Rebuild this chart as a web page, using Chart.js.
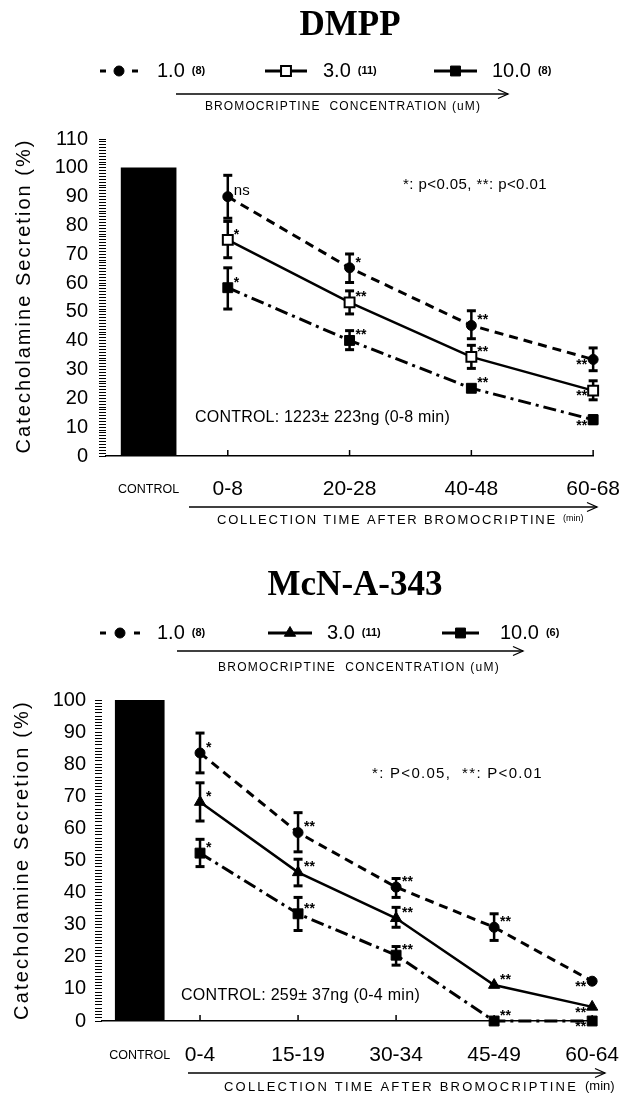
<!DOCTYPE html>
<html>
<head>
<meta charset="utf-8">
<script src="https://cdn.jsdelivr.net/npm/chart.js@4/dist/chart.umd.min.js"></script>
<style>
  html, body { margin: 0; padding: 0; background: #fff; }
  canvas { display: block; }
</style>
</head>
<body>
<canvas id="dmpp" width="641" height="540"></canvas>
<canvas id="mcn" width="641" height="555"></canvas>
<script>
// ----- data -----
const concLabels = ['1.0', '3.0', '10.0'];
const controlValue = 100;

// DMPP panel
const dmppTimes = ['0-8', '20-28', '40-48', '60-68'];
const dmppN = [8, 11, 8];
const dmppLow = [90, 65.3, 45.3, 33.5];
const dmppLowHi = [97.4, 70.1, 50.4, 37.5];
const dmppLowLo = [82.5, 60.2, 40.7, 29.6];
const dmppMid = [75, 53.3, 34.4, 22.7];
const dmppMidHi = [81.4, 57.3, 38.4, 26.1];
const dmppMidLo = [68.8, 49.3, 30.4, 19.5];
const dmppHigh = [58.4, 40.1, 23.5, 12.6];
const dmppHighHi = [65.3, 43.5, 24.5, 14];
const dmppHighLo = [51, 36.9, 22.5, 11.2];
const dmppSigLow = ['ns', '*', '**', '**'];
const dmppSigMid = ['*', '**', '**', '**'];
const dmppSigHigh = ['*', '**', '**', '**'];
const dmppStat = '*: p<0.05, **: p<0.01';
const dmppControl = 'CONTROL: 1223\u00b1 223ng (0-8 min)';

// McN-A-343 panel
const mcnTimes = ['0-4', '15-19', '30-34', '45-49', '60-64'];
const mcnN = [8, 11, 6];
const mcnLow = [83.5, 58.7, 41.7, 29.2, 12.4];
const mcnLowHi = [89.7, 64.9, 44.4, 33.4, null];
const mcnLowLo = [77.3, 52.7, 38.5, 25.1, null];
const mcnMid = [68.2, 46.3, 32, 11.2, 4.4];
const mcnMidHi = [74.2, 50.4, 35.4, null, null];
const mcnMidLo = [62.3, 42.1, 29.2, null, null];
const mcnHigh = [52.3, 33.4, 20.5, 0, 0];
const mcnHighHi = [56.6, 38.5, 23.2, null, null];
const mcnHighLo = [48.1, 28.2, 17.4, null, null];
const mcnSigLow = ['*', '**', '**', '**', '**'];
const mcnSigMid = ['*', '**', '**', '**', '**'];
const mcnSigHigh = ['*', '**', '**', '**', '**'];
const mcnStat = '*: P<0.05,  **: P<0.01';
const mcnControl = 'CONTROL: 259\u00b1 37ng (0-4 min)';

const SANS = "'Liberation Sans', Arial, Helvetica, sans-serif";
const SERIF = "'Liberation Serif', 'Times New Roman', serif";

// ----- drawing helpers -----
function fitText(ctx, str, x, y, w, font) {
  ctx.font = font;
  ctx.letterSpacing = '0px';
  const m = ctx.measureText(str).width;
  const ls = (w - m) / str.length;
  if ('letterSpacing' in ctx) {
    ctx.letterSpacing = ls + 'px';
    ctx.fillText(str, x, y);
    ctx.letterSpacing = '0px';
  } else {
    ctx.save(); ctx.translate(x, y); ctx.scale(w / m, 1); ctx.fillText(str, 0, 0); ctx.restore();
  }
}
function seg(ctx, x0, y0, x1, y1) {
  ctx.beginPath(); ctx.moveTo(x0, y0); ctx.lineTo(x1, y1); ctx.stroke();
}
function arrow(ctx, x0, x1, y) {
  ctx.lineWidth = 1.3; ctx.setLineDash([]);
  seg(ctx, x0, y, x1, y);
  ctx.beginPath(); ctx.moveTo(x1 - 10, y - 4.5); ctx.lineTo(x1, y); ctx.lineTo(x1 - 10, y + 4.5); ctx.stroke();
}
function drawMark(ctx, kind, x, y, r, fill) {
  ctx.beginPath();
  if (kind === 'circle') ctx.arc(x, y, r, 0, Math.PI * 2);
  else if (kind === 'rect') { const h = r * Math.SQRT1_2; ctx.rect(x - h, y - h, 2 * h, 2 * h); }
  else if (kind === 'triangle') {
    let a = 0;
    ctx.moveTo(x + Math.sin(a) * r, y - Math.cos(a) * r);
    a += 2 * Math.PI / 3; ctx.lineTo(x + Math.sin(a) * r, y - Math.cos(a) * r);
    a += 2 * Math.PI / 3; ctx.lineTo(x + Math.sin(a) * r, y - Math.cos(a) * r);
    ctx.closePath();
  }
  ctx.fillStyle = fill; ctx.fill();
  ctx.lineWidth = kind === 'rect' && fill === '#fff' ? 2 : 1;
  ctx.strokeStyle = '#000'; ctx.stroke();
}

// ----- per-panel plugin (error bars, notes, legend, captions) -----
function panelPlugin(p) {
  return {
    id: 'panel',
    beforeDatasetsDraw(chart) {
      const { ctx, scales: { x, y } } = chart;
      ctx.save();
      ctx.strokeStyle = '#000'; ctx.setLineDash([]);
      // inner ticks on the time axis
      ctx.lineWidth = 1.5;
      p.times.forEach((t, i) => {
        const px = x.getPixelForValue(i + 1);
        seg(ctx, px, chart.chartArea.bottom, px, chart.chartArea.bottom - 6);
      });
      chart.data.datasets.forEach(ds => {
        if (!ds.errHi) return;
        ds.data.forEach((pt, i) => {
          const hi = ds.errHi[i], lo = ds.errLo[i];
          if (hi == null || lo == null) return;
          const px = x.getPixelForValue(pt.x);
          const yh = y.getPixelForValue(hi), yl = y.getPixelForValue(lo);
          ctx.lineWidth = 2.5; seg(ctx, px, yh, px, yl);
          ctx.lineWidth = 3;
          seg(ctx, px - 4.5, yh, px + 4.5, yh);
          seg(ctx, px - 4.5, yl, px + 4.5, yl);
        });
      });
      ctx.restore();
    },
    afterDatasetsDraw(chart) {
      const { ctx, scales: { x, y } } = chart;
      ctx.save();
      ctx.fillStyle = '#000'; ctx.strokeStyle = '#000';
      // significance marks
      chart.data.datasets.forEach(ds => {
        if (!ds.sig) return;
        ds.data.forEach((pt, i) => {
          const s = ds.sig[i];
          if (!s) return;
          const px = x.getPixelForValue(pt.x), py = y.getPixelForValue(pt.y);
          const last = i === ds.data.length - 1;
          if (s === 'ns') {
            ctx.font = '15px ' + SANS; ctx.textAlign = 'left'; ctx.textBaseline = 'alphabetic';
            ctx.fillText(s, px + 6, py - 2);
          } else {
            ctx.font = 'bold 14px ' + SANS; ctx.textBaseline = 'top';
            ctx.textAlign = last ? 'right' : 'left';
            ctx.fillText(s, last ? px - 6 : px + 6, last ? py - 1 : py - 12);
          }
        });
      });
      ctx.textAlign = 'left'; ctx.textBaseline = 'middle';
      fitText(ctx, p.stat, p.statPos.x, y.getPixelForValue(p.statPos.v), p.statPos.w, '15px ' + SANS);
      fitText(ctx, p.control, p.ctrlPos.x, y.getPixelForValue(p.ctrlPos.v), p.ctrlPos.w, '16px ' + SANS);
      ctx.restore();
    },
    afterDraw(chart) {
      const { ctx } = chart;
      ctx.save();
      ctx.fillStyle = '#000'; ctx.strokeStyle = '#000';
      // title
      ctx.font = 'bold 35px ' + SERIF; ctx.textAlign = 'center'; ctx.textBaseline = 'alphabetic';
      ctx.fillText(p.title, p.titlePos.x, p.titlePos.y);
      // legend
      const lineDs = chart.data.datasets.filter(d => d.sig);
      lineDs.forEach((ds, k) => {
        const [x0, x1, tx] = p.legendPos[k];
        const ly = p.legendY, cx = (x0 + x1) / 2;
        ctx.setLineDash([]); ctx.lineWidth = 3;
        if (ds.borderDash && ds.borderDash.length === 2) {
          seg(ctx, x0, ly, x0 + 6, ly); seg(ctx, x1 - 6, ly, x1, ly);
        } else {
          seg(ctx, x0, ly, x1, ly);
        }
        drawMark(ctx, ds.pointStyle, cx, ly, ds.pointRadius, ds.pointBackgroundColor);
        ctx.fillStyle = '#000';
        ctx.textAlign = 'left'; ctx.textBaseline = 'middle';
        ctx.font = '20px ' + SANS;
        ctx.fillText(concLabels[k], tx, ly);
        const w = ctx.measureText(concLabels[k]).width;
        ctx.font = 'bold 11px ' + SANS;
        ctx.fillText('(' + p.n[k] + ')', tx + w + 7, ly);
      });
      // concentration arrow + caption
      arrow(ctx, p.concArrow.x0, p.concArrow.x1, p.concArrow.y);
      ctx.textAlign = 'left'; ctx.textBaseline = 'middle';
      fitText(ctx, 'BROMOCRIPTINE  CONCENTRATION (uM)', p.concText.x, p.concText.y, p.concText.w, '12px ' + SANS);
      // time arrow + caption
      arrow(ctx, p.timeArrow.x0, p.timeArrow.x1, p.timeArrow.y);
      fitText(ctx, 'COLLECTION TIME AFTER BROMOCRIPTINE', p.timeText.x, p.timeText.y, p.timeText.w, '13px ' + SANS);
      ctx.font = p.timeText.minFont + ' ' + SANS;
      ctx.fillText('(min)', p.timeText.minX, p.timeText.y - 1);
      // y title
      ctx.save();
      ctx.translate(p.yTitle.x, p.yTitle.y); ctx.rotate(-Math.PI / 2);
      fitText(ctx, 'Catecholamine Secretion (%)', -p.yTitle.w / 2, 0, p.yTitle.w, '20px ' + SANS);
      ctx.restore();
      ctx.restore();
    }
  };
}

// ----- series styles -----
function seriesStyles(midKind) {
  return [
    { dash: [9, 6], lw: 3, ps: 'circle', r: 5, fill: '#000' },
    { dash: [], lw: 2.5, ps: midKind, r: midKind === 'rect' ? 7 : 6.5, fill: midKind === 'rect' ? '#fff' : '#000' },
    { dash: [13, 5, 3, 5], lw: 3, ps: 'rect', r: 7, fill: '#000' }
  ];
}

function buildPanel(id, p) {
  const xTickVals = [p.controlX].concat(p.times.map((_, i) => i + 1));
  const xTickLabels = ['CONTROL'].concat(p.times);
  const datasets = [{
    type: 'bar', data: [{ x: p.controlX, y: controlValue }],
    backgroundColor: '#000', barThickness: p.barW, grouped: false, order: 5
  }];
  p.series.forEach((s, k) => {
    const st = p.styles[k];
    datasets.push({
      type: 'line',
      data: s.vals.map((v, i) => ({ x: i + 1, y: v })),
      errHi: s.hi, errLo: s.lo, sig: s.sig,
      borderColor: '#000', borderWidth: st.lw, borderDash: st.dash,
      pointStyle: st.ps, pointRadius: st.r, pointBackgroundColor: st.fill,
      pointBorderColor: '#000', pointBorderWidth: st.fill === '#fff' ? 2 : 1,
      tension: 0, clip: false, fill: false, order: 1
    });
  });
  return new Chart(document.getElementById(id), {
    type: 'line',
    data: { datasets },
    options: {
      responsive: false, animation: false,
      layout: { padding: { left: 0, right: 641 - p.right, top: p.top, bottom: 0 } },
      scales: {
        x: {
          type: 'linear', min: 0, max: p.times.length, offset: false,
          afterFit: (s) => { s.height = p.xAxisH; },
          afterBuildTicks: (s) => { s.ticks = xTickVals.map(v => ({ value: v })); },
          ticks: {
            autoSkip: false, maxRotation: 0, padding: p.xPad, color: '#000',
            callback: (v, i) => xTickLabels[i],
            font: (c) => c.index === 0 ? { family: SANS, size: 12.5, lineHeight: 2 } : { family: SANS, size: 21 }
          },
          grid: { display: false, drawTicks: false },
          border: { display: true, color: '#000', width: 1.5 }
        },
        y: {
          min: 0, max: p.yMax,
          afterFit: (s) => { s.width = p.left; },
          ticks: {
            stepSize: 1, autoSkip: false, maxTicksLimit: 500, padding: p.yPad, color: '#000',
            font: { family: SANS, size: 20 },
            callback: (v) => (v % 10 === 0 ? String(v) : '')
          },
          grid: { display: true, drawOnChartArea: false, drawTicks: true, tickLength: 7, color: '#000', lineWidth: 1 },
          border: { display: false }
        }
      },
      plugins: { legend: { display: false }, tooltip: { enabled: false } }
    },
    plugins: [panelPlugin(p)]
  });
}

buildPanel('dmpp', {
  title: 'DMPP', titlePos: { x: 350, y: 35 },
  times: dmppTimes, n: dmppN, stat: dmppStat, control: dmppControl,
  series: [
    { vals: dmppLow, hi: dmppLowHi, lo: dmppLowLo, sig: dmppSigLow },
    { vals: dmppMid, hi: dmppMidHi, lo: dmppMidLo, sig: dmppSigMid },
    { vals: dmppHigh, hi: dmppHighHi, lo: dmppHighLo, sig: dmppSigHigh }
  ],
  styles: seriesStyles('rect'),
  left: 106, right: 605, top: 139, xAxisH: 84, yMax: 110,
  controlX: 0.35, barW: 55, xPad: 21, yPad: 11,
  legendY: 71, legendPos: [[100, 138, 157], [265, 307, 323], [434, 477, 492]],
  concArrow: { x0: 176, x1: 508, y: 94 }, concText: { x: 205, y: 107, w: 276 },
  timeArrow: { x0: 189, x1: 597, y: 507 },
  timeText: { x: 217, y: 520, w: 340, minX: 563, minFont: '9px' },
  yTitle: { x: 24, y: 296, w: 315 },
  statPos: { x: 403, v: 94, w: 144 }, ctrlPos: { x: 195, v: 13.2, w: 255 }
});

buildPanel('mcn', {
  title: 'McN-A-343', titlePos: { x: 355, y: 55 },
  times: mcnTimes, n: mcnN, stat: mcnStat, control: mcnControl,
  series: [
    { vals: mcnLow, hi: mcnLowHi, lo: mcnLowLo, sig: mcnSigLow },
    { vals: mcnMid, hi: mcnMidHi, lo: mcnMidLo, sig: mcnSigMid },
    { vals: mcnHigh, hi: mcnHighHi, lo: mcnHighLo, sig: mcnSigHigh }
  ],
  styles: seriesStyles('triangle'),
  left: 102, right: 614, top: 160, xAxisH: 74, yMax: 100,
  controlX: 0.385, barW: 49, xPad: 22, yPad: 9,
  legendY: 93, legendPos: [[100, 140, 157], [268, 312, 327], [442, 479, 500]],
  concArrow: { x0: 177, x1: 523, y: 111 }, concText: { x: 218, y: 128, w: 282 },
  timeArrow: { x0: 188, x1: 605, y: 533 },
  timeText: { x: 224, y: 547, w: 354, minX: 585, minFont: '13px' },
  yTitle: { x: 22, y: 320, w: 320 },
  statPos: { x: 372, v: 77, w: 171 }, ctrlPos: { x: 181, v: 8, w: 239 }
});
</script>
</body>
</html>
